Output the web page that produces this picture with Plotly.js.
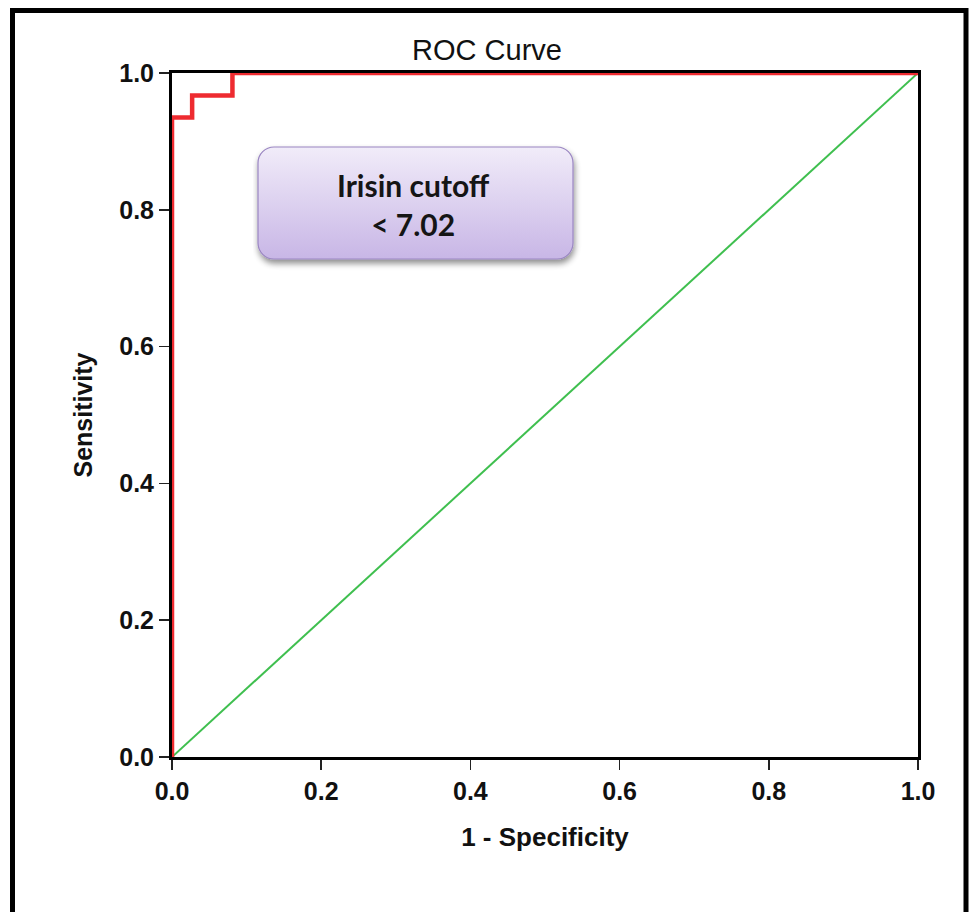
<!DOCTYPE html>
<html>
<head>
<meta charset="utf-8">
<script src="https://cdn.plot.ly/plotly-3.0.1.min.js"></script>
<style>html,body{margin:0;padding:0;background:#fff;}#chart{width:970px;height:912px;}</style>
</head>
<body>
<div id="chart"></div>
<script>
// ROC data (1 - Specificity vs Sensitivity)
const rocFpr = [0, 0, 0.027, 0.027, 0.081, 0.081, 1.0];
const rocTpr = [0, 0.935, 0.935, 0.967, 0.967, 1.0, 1.0];
const refFpr = [0, 1];
const refTpr = [0, 1];
const tickVals = [0, 0.2, 0.4, 0.6, 0.8, 1.0];
const tickText = ["0.0", "0.2", "0.4", "0.6", "0.8", "1.0"];

const boxSvg = '<svg xmlns="http://www.w3.org/2000/svg" width="330" height="130" viewBox="0 0 330 130">' +
  '<defs><linearGradient id="g" x1="0" y1="0" x2="0" y2="1">' +
  '<stop offset="0" stop-color="#f1ecf9"/><stop offset="1" stop-color="#c8b6e6"/></linearGradient>' +
  '<filter id="s" x="-10%" y="-10%" width="130%" height="140%"><feGaussianBlur in="SourceAlpha" stdDeviation="3"/>' +
  '<feOffset dx="1" dy="4" result="o"/><feComponentTransfer><feFuncA type="linear" slope="0.45"/></feComponentTransfer>' +
  '<feMerge><feMergeNode/><feMergeNode in="SourceGraphic"/></feMerge></filter></defs>' +
  '<rect x="5" y="3" width="315" height="112" rx="16" ry="16" fill="url(#g)" stroke="#9a86c2" stroke-width="1.2" filter="url(#s)"/></svg>';
const boxSrc = 'data:image/svg+xml;charset=utf-8,' + encodeURIComponent(boxSvg);

const L = 172, R = 918, T = 73, B = 757;
const W = R - L, H = B - T;
const px = x => (x - L) / W;
const py = y => (B - y) / H;
const FONT = 'Liberation Sans, Arial, sans-serif';

const traces = [
  {x: refFpr, y: refTpr, mode: 'lines', line: {color: '#3fbf4f', width: 2}, hoverinfo: 'skip', cliponaxis: false},
  {x: rocFpr, y: rocTpr, mode: 'lines', line: {color: '#ee2b30', width: 4.5, shape: 'linear'}, hoverinfo: 'skip', cliponaxis: false}
];

const axisCommon = {
  range: [0, 1], tickvals: tickVals, ticktext: tickText,
  ticks: 'outside', ticklen: 10, tickwidth: 1.5, tickcolor: '#222',
  showgrid: false, zeroline: false, showline: true, linecolor: '#000', linewidth: 3,
  mirror: true, tickfont: {family: FONT, size: 25, color: '#111', weight: 'bold'}
};

const layout = {
  width: 970, height: 912,
  margin: {l: L, r: 970 - R, t: T, b: 912 - B},
  paper_bgcolor: '#fff', plot_bgcolor: '#fff',
  showlegend: false,
  title: {text: 'ROC Curve', x: 487 / 970, xanchor: 'center', y: 1 - 50 / 912, yanchor: 'middle',
          font: {family: FONT, size: 29, color: '#111', weight: 500}},
  xaxis: Object.assign({}, axisCommon, {
    title: {text: '<b>1 - Specificity</b>', standoff: 24, font: {family: FONT, size: 26, color: '#111'}}
  }),
  yaxis: Object.assign({}, axisCommon, {
    title: {text: '<b>Sensitivity</b>', standoff: 20, font: {family: FONT, size: 25, color: '#111'}}
  }),
  images: [{
    source: boxSrc, xref: 'paper', yref: 'paper',
    x: px(253), y: py(144), sizex: 330 / W, sizey: 130 / H,
    xanchor: 'left', yanchor: 'top', sizing: 'stretch', layer: 'above'
  }],
  annotations: [{
    xref: 'paper', yref: 'paper', x: px(413), y: py(204), xanchor: 'center', yanchor: 'middle',
    text: '<b>Irisin cutoff</b><br><b>&lt; 7.02</b>', showarrow: false,
    font: {family: 'Lato, Open Sans, sans-serif', size: 30, color: '#151515'}, align: 'center'
  }],
  shapes: [{
    type: 'rect', xref: 'paper', yref: 'paper', layer: 'above',
    x0: px(12.5), x1: px(966), y0: py(10.5), y1: py(930),
    line: {color: '#000', width: 5}, fillcolor: 'rgba(0,0,0,0)'
  }]
};

Plotly.newPlot('chart', traces, layout, {displayModeBar: false, staticPlot: true});
</script>
</body>
</html>
